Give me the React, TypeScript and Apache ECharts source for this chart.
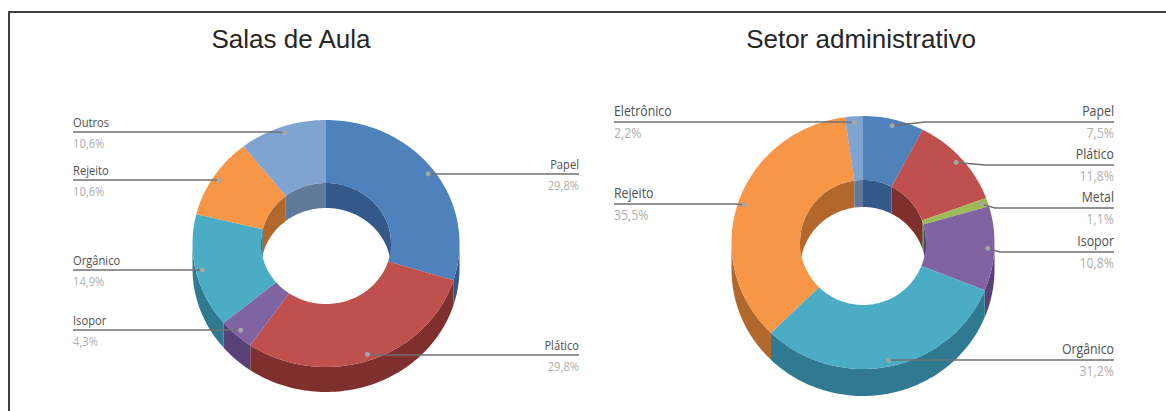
import React, { useEffect, useRef } from "react";
import * as echarts from "echarts";

// Shares per sector, in percent, as printed beside each slice.
const salasNames = ["Papel", "Plático", "Isopor", "Orgânico", "Rejeito", "Outros"];
const salasValues = [29.8, 29.8, 4.3, 14.9, 10.6, 10.6];

const setorNames = ["Papel", "Plático", "Metal", "Isopor", "Orgânico", "Rejeito", "Eletrônico"];
const setorValues = [7.5, 11.8, 1.1, 10.8, 31.2, 35.5, 2.2];

// Face and wall colours per material.
const faceColors: Record<string, string> = {
  Papel: "#4f81bd",
  "Plático": "#c0504d",
  Metal: "#9bbb59",
  Isopor: "#8064a2",
  "Orgânico": "#4bacc6",
  Rejeito: "#f79646",
  Outros: "#7fa4d1",
  "Eletrônico": "#7fa4d1",
};
const wallColors: Record<string, string> = {
  Papel: "#33598a",
  "Plático": "#7f2f2d",
  Metal: "#6c8a3a",
  Isopor: "#584177",
  "Orgânico": "#2f7a90",
  Rejeito: "#b2682c",
  Outros: "#5f7a9a",
  "Eletrônico": "#5f7a9a",
};

type Ring = { cx: number; cy: number; rx: number; ry: number; irx: number; iry: number; depth: number };
// side: which column the callout sits in; y: height of its rule; knee: where the rule leaves the dot's slant.
type Callout = { side: "left" | "right"; y: number; knee?: number };
type CaptionLook = { left: number; right: number; font: string; squeeze: number; nameGap: number; valueGap: number };

const salasRing: Ring = { cx: 326, cy: 243.5, rx: 133.5, ry: 123.5, irx: 65, iry: 60.5, depth: 25 };
const setorRing: Ring = { cx: 863, cy: 242.5, rx: 131.5, ry: 126.5, irx: 63, iry: 62.5, depth: 27 };

const salasCallouts: Callout[] = [
  { side: "right", y: 174 },
  { side: "right", y: 355 },
  { side: "left", y: 330 },
  { side: "left", y: 270 },
  { side: "left", y: 180 },
  { side: "left", y: 132 },
];
const setorCallouts: Callout[] = [
  { side: "right", y: 122, knee: 925 },
  { side: "right", y: 165, knee: 985 },
  { side: "right", y: 208, knee: 995 },
  { side: "right", y: 252, knee: 1000 },
  { side: "right", y: 360 },
  { side: "left", y: 204 },
  { side: "left", y: 122 },
];

const salasLook: CaptionLook = {
  left: 73,
  right: 579,
  font: '13px "Open Sans", sans-serif',
  squeeze: 0.86,
  nameGap: 3,
  valueGap: 5,
};
const setorLook: CaptionLook = {
  left: 614,
  right: 1114,
  font: '14px "Open Sans", sans-serif',
  squeeze: 0.88,
  nameGap: 4,
  valueGap: 4,
};

const DOT_RADIUS_SHARE = 0.95;

const rad = (d: number) => (d * Math.PI) / 180;

// Angles run clockwise from twelve o'clock, as in the usual pie layout.
function ellipsePoint(cx: number, cy: number, rx: number, ry: number, deg: number) {
  return [cx + rx * Math.sin(rad(deg)), cy - ry * Math.cos(rad(deg))];
}

function arcPoints(cx: number, cy: number, rx: number, ry: number, a0: number, a1: number) {
  const n = Math.max(2, Math.ceil(Math.abs(a1 - a0) / 1.5));
  const pts: number[][] = [];
  for (let i = 0; i <= n; i++) pts.push(ellipsePoint(cx, cy, rx, ry, a0 + ((a1 - a0) * i) / n));
  return pts;
}

function sliceAngles(values: number[]) {
  const total = values.reduce((s, v) => s + v, 0);
  let acc = 0;
  return values.map((v) => {
    const start = (acc / total) * 360;
    acc += v;
    return [start, (acc / total) * 360];
  });
}

// Intersection of [a0, a1] with a visible span; null when the slice is out of it.
function clipSpan(a0: number, a1: number, lo: number, hi: number) {
  const s = Math.max(a0, lo);
  const e = Math.min(a1, hi);
  return e > s ? [s, e] : null;
}

function donutWalls(names: string[], values: number[], ring: Ring) {
  const angles = sliceAngles(values);
  return {
    type: "custom",
    coordinateSystem: "none",
    silent: true,
    z: 2,
    data: values.map((v) => [v]),
    renderItem: (params: any) => {
      const i = params.dataIndex;
      const [a0, a1] = angles[i];
      const fill = wallColors[names[i]];
      const { cx, cy, rx, ry, irx, iry, depth } = ring;
      const children: any[] = [];
      // Outer wall faces the viewer on the lower half of the ring.
      const front = clipSpan(a0, a1, 90, 270);
      if (front) {
        const top = arcPoints(cx, cy, rx, ry, front[0], front[1]);
        const bottom = arcPoints(cx, cy + depth, rx, ry, front[0], front[1]).reverse();
        children.push({ type: "polygon", shape: { points: [...top, ...bottom] }, style: { fill } });
      }
      // Inner wall shows through the hole on the upper half.
      for (const span of [clipSpan(a0, a1, 0, 90), clipSpan(a0, a1, 270, 360)]) {
        if (!span) continue;
        const top = arcPoints(cx, cy, irx, iry, span[0], span[1]);
        const bottom = arcPoints(cx, cy + depth, irx, iry, span[0], span[1]).reverse();
        children.push({ type: "polygon", shape: { points: [...top, ...bottom] }, style: { fill } });
      }
      return { type: "group", children };
    },
  };
}

function donutFaces(names: string[], values: number[], ring: Ring) {
  const angles = sliceAngles(values);
  return {
    type: "custom",
    coordinateSystem: "none",
    silent: true,
    z: 3,
    data: values.map((v) => [v]),
    renderItem: (params: any) => {
      const i = params.dataIndex;
      const [a0, a1] = angles[i];
      const { cx, cy, rx, ry, irx, iry } = ring;
      const outer = arcPoints(cx, cy, rx, ry, a0, a1);
      const inner = arcPoints(cx, cy, irx, iry, a0, a1).reverse();
      return {
        type: "polygon",
        shape: { points: [...outer, ...inner] },
        style: { fill: faceColors[names[i]] },
      };
    },
  };
}

function donutCallouts(names: string[], values: number[], ring: Ring, callouts: Callout[], look: CaptionLook) {
  const angles = sliceAngles(values);
  return {
    type: "custom",
    coordinateSystem: "none",
    silent: true,
    z: 4,
    data: values.map((v) => [v]),
    renderItem: (params: any) => {
      const i = params.dataIndex;
      const [a0, a1] = angles[i];
      const mid = (a0 + a1) / 2;
      const c = callouts[i];
      const [dx, dy] = ellipsePoint(
        ring.cx,
        ring.cy,
        ring.rx * DOT_RADIUS_SHARE,
        ring.ry * DOT_RADIUS_SHARE,
        mid,
      );
      const endX = c.side === "left" ? look.left : look.right;
      const knee = c.knee ?? dx + (c.side === "left" ? -10 : 10);
      const points = [[dx, dy], [knee, c.y], [endX, c.y]];
      const align = c.side === "left" ? "left" : "right";
      const caption = (text: string, y: number, verticalAlign: string, fill: string) => ({
        type: "text",
        x: endX,
        y,
        scaleX: look.squeeze,
        style: { text, x: 0, y: 0, align, verticalAlign, font: look.font, fill },
      });
      return {
        type: "group",
        children: [
          { type: "polyline", shape: { points }, style: { stroke: "#707070", lineWidth: 1.5, fill: "none" } },
          { type: "circle", shape: { cx: dx, cy: dy, r: 2.5 }, style: { fill: "#a6a6a6" } },
          caption(names[i], c.y - look.nameGap, "bottom", "#505050"),
          caption(`${values[i].toFixed(1).replace(".", ",")}%`, c.y + look.valueGap, "top", "#b0b0b0"),
        ],
      };
    },
  };
}

export default function App() {
  const ref = useRef<HTMLDivElement>(null);

  useEffect(() => {
    const chart = echarts.init(ref.current!, undefined, { renderer: "svg" });
    const titleStyle = {
      fontFamily: '"Liberation Sans", Arial, sans-serif',
      fontSize: 26,
      fontWeight: "normal" as const,
      color: "#262626",
    };
    chart.setOption({
      animation: false,
      backgroundColor: "#ffffff",
      title: [
        { text: "Salas de Aula", left: 286, top: 21, textAlign: "center", textStyle: titleStyle },
        { text: "Setor administrativo", left: 856, top: 21, textAlign: "center", textStyle: titleStyle },
      ],
      graphic: [
        { type: "line", shape: { x1: 8, y1: 12, x2: 1166, y2: 12 }, style: { stroke: "#404040", lineWidth: 2 } },
        { type: "line", shape: { x1: 9, y1: 11, x2: 9, y2: 411 }, style: { stroke: "#404040", lineWidth: 2 } },
      ],
      series: [
        donutWalls(salasNames, salasValues, salasRing),
        donutFaces(salasNames, salasValues, salasRing),
        donutCallouts(salasNames, salasValues, salasRing, salasCallouts, salasLook),
        donutWalls(setorNames, setorValues, setorRing),
        donutFaces(setorNames, setorValues, setorRing),
        donutCallouts(setorNames, setorValues, setorRing, setorCallouts, setorLook),
      ],
    });
    return () => chart.dispose();
  }, []);

  return <div ref={ref} style={{ position: "absolute", left: 0, top: 0, width: 1166, height: 411 }} />;
}
